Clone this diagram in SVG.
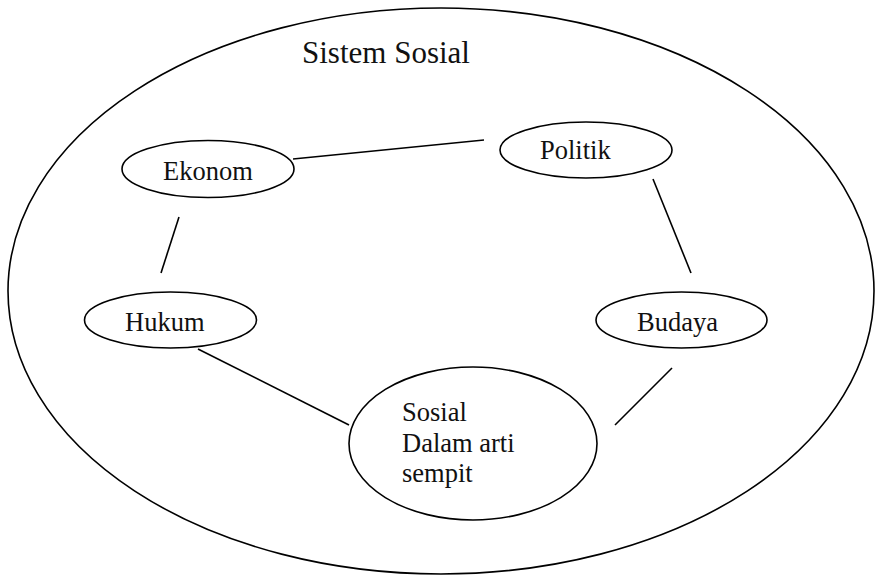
<svg xmlns="http://www.w3.org/2000/svg" width="875" height="576" viewBox="0 0 875 576">
  <style>
    .shape { fill: none; stroke: #000; stroke-width: 1.6; }
    .link { stroke: #000; stroke-width: 1.6; fill: none; }
    text { font-family: 'Liberation Serif', 'Tinos', 'Times New Roman', 'DejaVu Serif', serif; fill: #111; }
    .label { font-size: 26.5px; }
    .title { font-size: 31px; }
  </style>
  <rect width="875" height="576" fill="#fff"/>

  <!-- outer boundary: the social system -->
  <g id="sistem-sosial">
    <ellipse class="shape" cx="441" cy="291" rx="433" ry="283"/>
    <text class="title" x="302" y="63" font-family="Liberation Serif, serif">Sistem Sosial</text>
  </g>

  <!-- connectors between subsystems -->
  <g id="connectors">
    <line class="link" x1="293" y1="159" x2="484" y2="140"/>
    <line class="link" x1="179" y1="217" x2="161" y2="273"/>
    <line class="link" x1="653" y1="179" x2="691" y2="273"/>
    <line class="link" x1="198" y1="349" x2="349" y2="425"/>
    <line class="link" x1="672" y1="368" x2="615" y2="425"/>
  </g>

  <g id="ekonom">
    <ellipse class="shape" cx="208" cy="169" rx="86" ry="28.5"/>
    <text class="label" x="163" y="180">Ekonom</text>
  </g>

  <g id="politik">
    <ellipse class="shape" cx="586" cy="150" rx="86" ry="28"/>
    <text class="label" x="540" y="159">Politik</text>
  </g>

  <g id="hukum">
    <ellipse class="shape" cx="170.5" cy="320" rx="86" ry="28"/>
    <text class="label" x="125" y="331">Hukum</text>
  </g>

  <g id="budaya">
    <ellipse class="shape" cx="681.5" cy="320" rx="85.5" ry="28"/>
    <text class="label" x="637" y="331">Budaya</text>
  </g>

  <g id="sosial">
    <ellipse class="shape" cx="473" cy="443.5" rx="124" ry="76.5"/>
    <text class="label" x="402" y="421">Sosial</text>
    <text class="label" x="402" y="452">Dalam arti</text>
    <text class="label" x="402" y="482">sempit</text>
  </g>
</svg>
